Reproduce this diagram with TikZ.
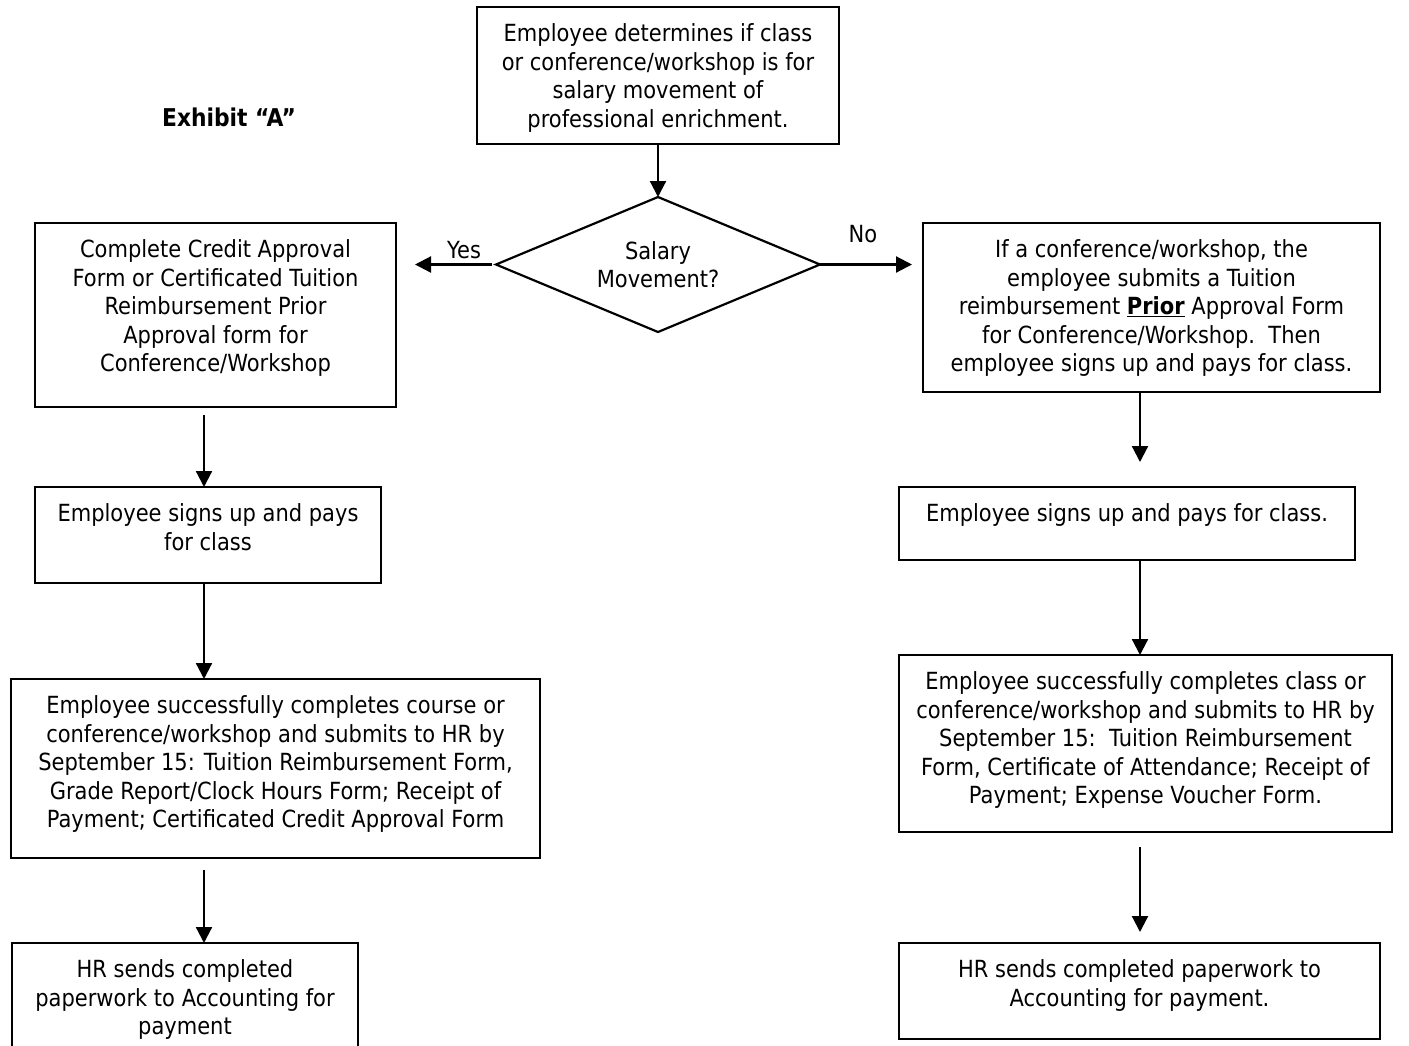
\documentclass[tikz,border=0pt]{standalone}
\usepackage{fontspec}
\setmainfont{DejaVu Sans}[FakeStretch=0.89]
\usetikzlibrary{arrows.meta,shapes.geometric,calc}
\newcommand\bxt[3]{\parbox[c][#2pt][t]{#1pt}{\vspace*{15pt}\centering\strut#3\par}}
\tikzset{
  flowbox/.style={draw, line width=2.2pt, inner sep=0pt, outer sep=0pt, anchor=north west},
  arr/.style={line width=2.2pt, -{Triangle[length=16pt,width=16pt]}},
  lbl/.style={inner sep=0pt}
}
\begin{document}
\begin{tikzpicture}[x=1pt, y=-1pt, font=\fontsize{23.6}{28.5}\selectfont]
\useasboundingbox (0,0) rectangle (1409,1045);
\clip (0,0) rectangle (1409,1045);
\fill[white] (0,0) rectangle (1409,1045);

\node[lbl, font=\fontsize{24.5}{28.5}\selectfont\bfseries] (exh) at (229,117) {Exhibit “A”};

\node[flowbox] (top) at (477,7) {\bxt{362}{137}{Employee determines if class\\or conference/workshop is for\\salary movement of\\professional enrichment.}};

\node[draw, diamond, aspect=2.4, line width=2.2pt, minimum width=324pt, minimum height=135pt, inner sep=0pt, outer sep=0pt, align=center] (dia) at (658,264.5) {Salary\\Movement?};

\node[lbl] (yes) at (464,250) {Yes};
\node[lbl] (no) at (863,234) {No};

\node[flowbox] (L1) at (35,223) {\bxt{361}{184}{Complete Credit Approval\\Form or Certificated Tuition\\Reimbursement Prior\\Approval form for\\Conference/Workshop}};
\node[flowbox] (L2) at (35,487) {\bxt{346}{96}{Employee signs up and pays\\for class}};
\node[flowbox] (L3) at (11,679) {\bxt{529}{179}{Employee successfully completes course or\\conference/workshop and submits to HR by\\September 15: Tuition Reimbursement Form,\\Grade Report/Clock Hours Form; Receipt of\\Payment; Certificated Credit Approval Form}};
\node[flowbox] (L4) at (12,943) {\bxt{346}{112}{HR sends completed\\paperwork to Accounting for\\payment}};

\node[flowbox] (R1) at (923,223) {\bxt{457}{169}{If a conference/workshop, the\\employee submits a Tuition\\reimbursement \underline{\textbf{Prior}} Approval Form\\for Conference/Workshop.\ \ Then\\employee signs up and pays for class.}};
\node[flowbox] (R2) at (899,487) {\bxt{456}{73}{Employee signs up and pays for class.}};
\node[flowbox] (R3) at (899,655) {\bxt{493}{177}{Employee successfully completes class or\\conference/workshop and submits to HR by\\September 15:\ \ Tuition Reimbursement\\Form, Certificate of Attendance; Receipt of\\Payment; Expense Voucher Form.}};
\node[flowbox] (R4) at (899,943) {\bxt{481}{96}{HR sends completed paperwork to\\Accounting for payment.}};

\coordinate (xl) at (204,0);
\coordinate (xr) at (1140,0);

\draw[arr] (top.south -| dia.north) -- (dia.north);
\draw[arr, shorten <=4pt, shorten >=19pt] (dia.west) -- (dia.west -| L1.east);
\draw[arr, shorten >=11pt] (dia.east) -- (dia.east -| R1.west);

\draw[arr, shorten <=8pt] (L1.south -| xl) -- (L2.north -| xl);
\draw[arr] (L2.south -| xl) -- (L3.north -| xl);
\draw[arr, shorten <=12pt] (L3.south -| xl) -- (L4.north -| xl);

\draw[arr, shorten >=25pt] (R1.south -| xr) -- (R2.north -| xr);
\draw[arr] (R2.south -| xr) -- (R3.north -| xr);
\draw[arr, shorten <=15pt, shorten >=11pt] (R3.south -| xr) -- (R4.north -| xr);
\end{tikzpicture}
\end{document}
